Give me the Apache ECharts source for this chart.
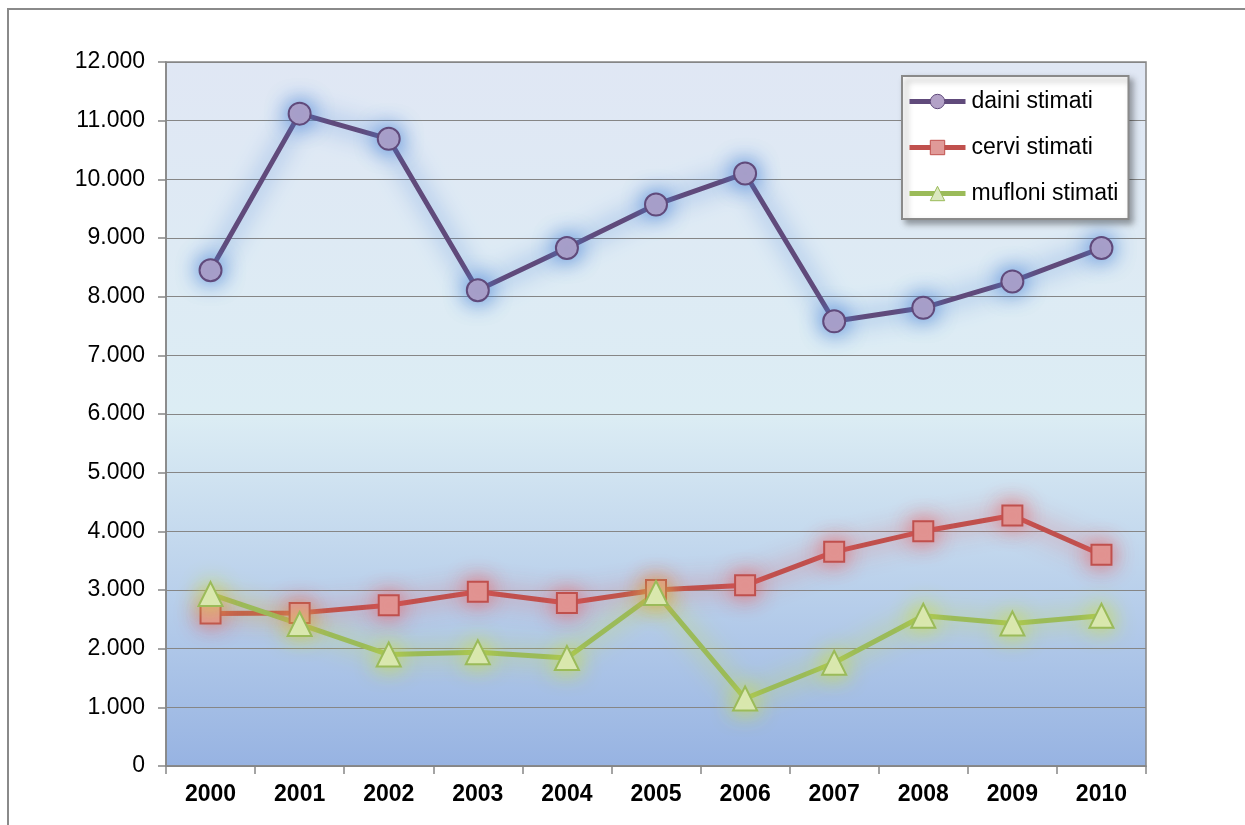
<!DOCTYPE html>
<html>
<head>
<meta charset="utf-8">
<script src="https://cdn.jsdelivr.net/npm/echarts@6/dist/echarts.min.js"></script>
<style>
  html, body { margin: 0; padding: 0; background: #fff; }
  #chart { width: 1245px; height: 825px; }
</style>
</head>
<body>
<div id="chart"></div>
<script>
// anni
const years = ['2000', '2001', '2002', '2003', '2004', '2005', '2006', '2007', '2008', '2009', '2010'];

// stime per specie
const daini = [8450, 11120, 10690, 8110, 8830, 9570, 10100, 7580, 7810, 8260, 8830];
const cervi = [2600, 2610, 2740, 2970, 2780, 3000, 3080, 3650, 4000, 4270, 3600];
const mufloni = [2930, 2420, 1900, 1940, 1840, 2950, 1150, 1760, 2560, 2430, 2560];

const seriesNames = ['daini stimati', 'cervi stimati', 'mufloni stimati'];

const chart = echarts.init(document.getElementById('chart'));

const fmtThousands = (v) => {
  if (v === 0) return '0';
  return (v / 1000) + '.000';
};

const makeSeries = (name, data, symbol, size, lineColor, fillColor, glow) => ({
  name: name,
  type: 'line',
  data: data,
  symbol: symbol,
  symbolSize: size,
  lineStyle: {
    color: lineColor,
    width: 5,
    shadowColor: glow,
    shadowBlur: 24,
  },
  itemStyle: {
    color: fillColor,
    borderColor: lineColor,
    borderWidth: 2,
    shadowColor: glow,
    shadowBlur: 22,
  },
  emphasis: { disabled: true },
  z: 3,
});

const option = {
  backgroundColor: '#ffffff',
  animation: false,
  graphic: [
    {
      type: 'rect',
      shape: { x: 8, y: 9, width: 1300, height: 900 },
      style: { fill: 'none', stroke: '#8a8a8a', lineWidth: 2 },
      silent: true,
    },
  ],
  grid: {
    left: 166,
    right: 99,
    top: 62,
    bottom: 59,
    show: true,
    borderColor: '#868686',
    borderWidth: 1.5,
    backgroundColor: new echarts.graphic.LinearGradient(0, 0, 0, 1, [
      { offset: 0, color: '#e0e7f4' },
      { offset: 0.5, color: '#dcedf4' },
      { offset: 1, color: '#97b3e2' },
    ]),
  },
  legend: {
    orient: 'vertical',
    left: 902,
    top: 76,
    padding: [14, 10, 14, 5],
    itemGap: 23,
    itemWidth: 56,
    itemHeight: 18,
    backgroundColor: '#ffffff',
    borderColor: '#8a8a8a',
    borderWidth: 2,
    shadowColor: 'rgba(0,0,0,0.35)',
    shadowBlur: 6,
    shadowOffsetX: 4,
    shadowOffsetY: 4,
    lineStyle: { width: 5, shadowBlur: 0 },
    itemStyle: { shadowBlur: 0, borderWidth: 1 },
    textStyle: {
      fontFamily: 'Liberation Sans, Arial, sans-serif',
      fontSize: 23,
      color: '#000',
      padding: [0, 0, 0, 1],
    },
    data: seriesNames,
  },
  xAxis: {
    type: 'category',
    data: years,
    boundaryGap: true,
    axisLine: { lineStyle: { color: '#868686', width: 1.5 } },
    axisTick: { show: true, length: 8, lineStyle: { color: '#868686', width: 1.5 } },
    axisLabel: {
      fontFamily: 'Liberation Sans, Arial, sans-serif',
      fontSize: 23,
      fontWeight: 'bold',
      color: '#000',
      margin: 17,
    },
  },
  yAxis: {
    type: 'value',
    min: 0,
    max: 12000,
    interval: 1000,
    axisLine: { show: true, lineStyle: { color: '#868686', width: 1.5 } },
    axisTick: { show: true, length: 8, lineStyle: { color: '#868686', width: 1.5 } },
    splitLine: { show: true, lineStyle: { color: '#868686', width: 1 } },
    axisLabel: {
      fontFamily: 'Liberation Sans, Arial, sans-serif',
      fontSize: 23,
      color: '#000',
      margin: 21,
      formatter: fmtThousands,
    },
  },
  series: [
    makeSeries(seriesNames[0], daini, 'circle', 22, '#604a7b', '#b3a2c7', 'rgba(70,130,215,1)'),
    makeSeries(seriesNames[1], cervi, 'rect', 20, '#c0504d', '#e09a98', 'rgba(235,90,90,0.9)'),
    makeSeries(seriesNames[2], mufloni, 'triangle', 24, '#9bbb59', '#dbe8bf', 'rgba(205,225,60,1)'),
  ],
};

chart.setOption(option);
</script>
</body>
</html>
